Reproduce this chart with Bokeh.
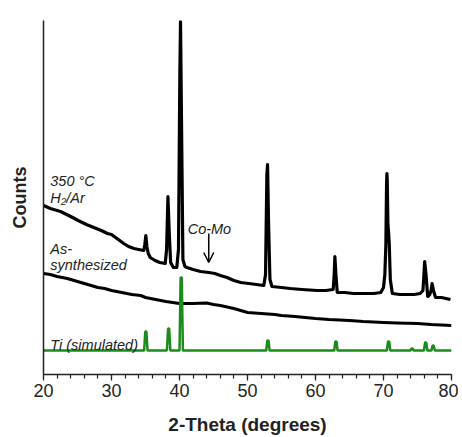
from bokeh.plotting import figure
from bokeh.models import Range1d, Label, Arrow, OpenHead, FixedTicker
from bokeh.embed import file_html
from bokeh.resources import INLINE

# ---- data (2-theta in degrees, counts in arbitrary units) ----
s350_x = [20.0, 21.0, 22.5, 24.0, 25.1, 26.3, 27.4, 28.5, 29.4, 30.0, 30.6, 31.2, 31.8, 32.5,
          33.3, 34.0, 34.75, 34.9, 35.05, 35.2, 35.4, 35.7, 36.4, 37.1, 37.9, 38.1, 38.3,
          38.5, 38.7, 39.1, 39.6, 39.85, 40.05, 40.15, 40.3, 40.5, 40.8, 41.1, 42.0, 43.1,
          44.3, 45.2, 46.0, 47.0, 48.0, 49.0, 50.2, 51.3, 52.4, 52.65, 52.85, 52.95, 53.1,
          53.3, 53.6, 55.0, 56.3, 58.0, 60.25, 61.5, 62.6, 62.75, 62.85, 63.0, 63.2, 64.3,
          65.6, 67.0, 68.6, 69.6, 70.0, 70.2, 70.35, 70.45, 70.5, 70.55, 70.65, 70.75, 70.85,
          71.0, 71.3, 72.4, 73.5, 74.5, 75.4, 75.8, 75.95, 76.05, 76.25, 76.5, 76.8, 77.0,
          77.15, 77.35, 77.65, 78.5, 79.2, 79.85]
s350_y = [169, 166, 163, 158, 154, 150, 147, 144, 141, 140, 137, 134, 131, 128,
          126, 125, 124, 130, 139, 128, 121, 117, 114, 112, 111, 125, 178,
          140, 112, 107, 107, 125, 300, 353, 250, 115, 108, 107, 105, 103,
          102, 101, 99, 97, 94, 92, 91, 90, 89, 100, 200, 210, 150,
          95, 88, 87, 86, 85, 84, 84, 85, 100, 118, 100, 82, 82,
          81, 81, 81, 82, 87, 100, 130, 190, 201, 195, 150, 142, 130,
          95, 81, 80, 80, 80, 81, 84, 100, 113, 100, 78, 80, 84,
          91, 84, 77, 77, 76, 75]

assyn_x = [20, 21, 22, 23.5, 25, 26.5, 28, 29, 30, 31.5, 33, 34.3, 35, 36.5, 38, 39, 40, 42,
           44, 45, 46, 48, 50, 52, 54, 55, 57, 60, 62, 65, 67, 70, 72, 75, 77, 80]
assyn_y = [101, 100, 98, 96, 93, 90, 87, 86, 84, 82, 80, 79, 77, 75, 73, 72, 71, 71,
           71.5, 70, 69, 66, 62, 61, 60, 59, 58, 56, 55, 54, 53, 52, 51.5, 51, 50, 49]

ti_peaks = [35.05, 38.4, 40.25, 53.0, 63.0, 70.75, 74.2, 76.2, 77.3]
ti_heights = [43, 46, 97, 34, 33, 33, 26, 32, 29]
ti_base = 24

x_ticks = [20, 30, 40, 50, 60, 70, 80]

ti_x = [20.0]
ti_y = [ti_base]
for pk, h in zip(ti_peaks, ti_heights):
    ti_x += [pk - 0.25, pk - 0.08, pk + 0.08, pk + 0.25]
    ti_y += [ti_base, h, h, ti_base]
ti_x.append(80.0)
ti_y.append(ti_base)

FONT = "Liberation Sans"

p = figure(width=458, height=437, output_backend="svg", toolbar_location=None,
           x_range=Range1d(20, 80), y_range=Range1d(0, 354),
           min_border_left=43, min_border_right=7, min_border_top=20, min_border_bottom=63)
p.outline_line_color = None
p.xgrid.visible = False
p.ygrid.visible = False
p.background_fill_color = "white"

p.line(s350_x, s350_y, line_color="black", line_width=3.2, line_join="round")
p.line(assyn_x, assyn_y, line_color="black", line_width=3.2, line_join="round")
p.line(ti_x, ti_y, line_color="#1a8c1a", line_width=2.5)

# x axis
xa = p.xaxis[0]
xa.ticker = FixedTicker(ticks=x_ticks, minor_ticks=list(range(20, 81, 2)))
xa.axis_line_color = "#222222"
xa.axis_line_width = 1.5
xa.major_tick_line_color = "#222222"
xa.minor_tick_line_color = "#222222"
xa.major_tick_line_width = 1.2
xa.minor_tick_line_width = 1.2
xa.major_tick_out = 6
xa.major_tick_in = 0
xa.minor_tick_out = 4
xa.minor_tick_in = 0
xa.major_label_text_font = FONT
xa.major_label_text_font_size = "18px"
xa.major_label_text_color = "#222222"
xa.major_label_standoff = 3
xa.axis_label = "2-Theta (degrees)"
xa.axis_label_text_font = FONT
xa.axis_label_text_font_size = "19px"
xa.axis_label_text_font_style = "bold"
xa.axis_label_text_color = "#222222"
xa.axis_label_standoff = 14

# y axis
ya = p.yaxis[0]
ya.ticker = FixedTicker(ticks=[])
ya.axis_line_color = "#222222"
ya.axis_line_width = 1.5
ya.major_tick_line_color = None
ya.minor_tick_line_color = None
ya.major_label_text_font_size = "0px"
ya.axis_label = "Counts"
ya.axis_label_text_font = FONT
ya.axis_label_text_font_size = "18px"
ya.axis_label_text_font_style = "bold"
ya.axis_label_text_color = "#222222"
ya.axis_label_standoff = 14

def note(x, y, t):
    p.add_layout(Label(x=x, y=y, text=t, text_font=FONT, text_font_size="14.5px",
                       text_font_style="italic", text_color="#222222",
                       text_baseline="alphabetic", text_align="left"))

note(21.0, 194, "350 °C")
note(21.0, 177, "H₂/Ar")
note(21.0, 126, "As-")
note(21.0, 110, "synthesized")
note(41.2, 146, "Co-Mo")
note(21.0, 30, "Ti (simulated)")

p.add_layout(Arrow(end=OpenHead(size=10, line_width=1.5, line_color="black"),
                   x_start=44.3, y_start=141, x_end=44.3, y_end=112,
                   line_width=1.5, line_color="black"))

open("out.html", "w").write(file_html(p, INLINE))
